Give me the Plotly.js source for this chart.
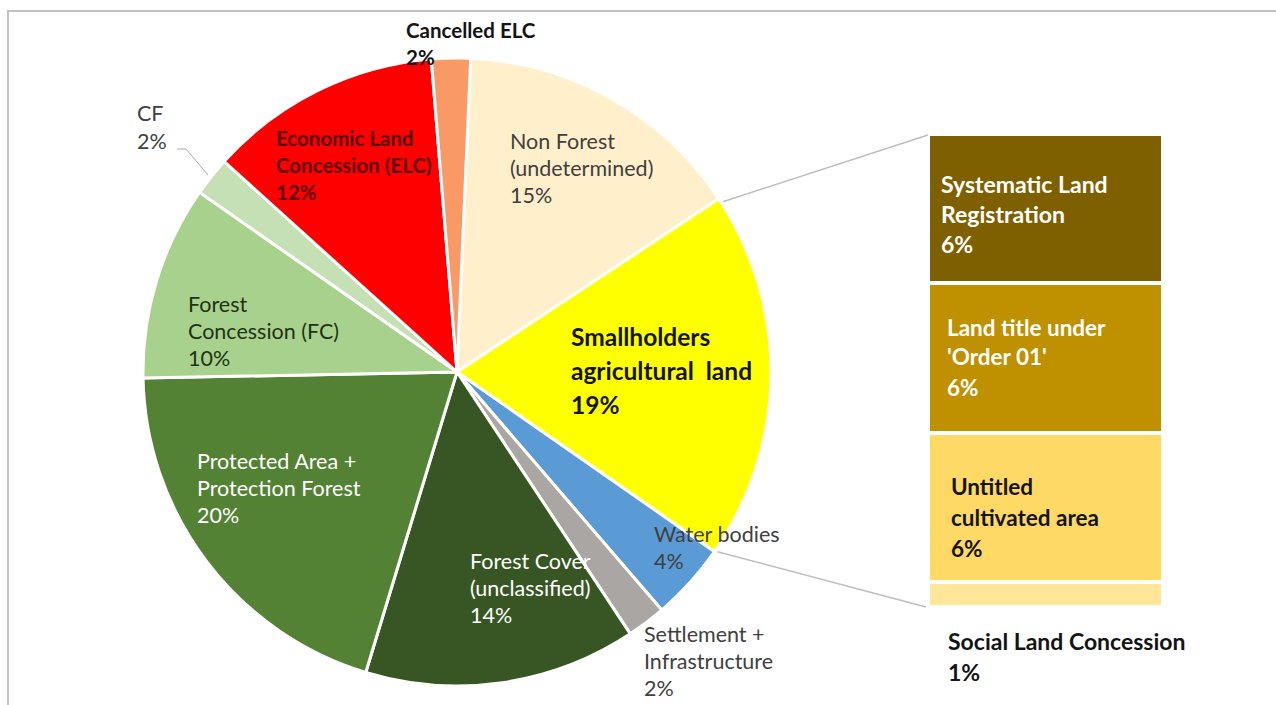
<!DOCTYPE html>
<html>
<head>
<meta charset="utf-8">
<script src="https://cdn.plot.ly/plotly-3.0.1.min.js"></script>
<style>html,body{margin:0;padding:0;background:#fff;}#chart{width:1276px;height:705px;}</style>
</head>
<body>
<div id="chart"></div>
<script>
// ---- data ----
const pieLabels = ['Non Forest\n(undetermined)', 'Smallholders\nagricultural  land', 'Water bodies',
  'Settlement +\nInfrastructure', 'Forest Cover\n(unclassified)', 'Protected Area +\nProtection Forest',
  'Forest\nConcession (FC)', 'CF', 'Economic Land\nConcession (ELC)', 'Cancelled ELC'];
const pieValues = [15, 19, 4, 2, 14, 20, 10, 2, 12, 2];
const pieColors = ['#FFEFCB', '#FFFF00', '#5B9BD5', '#A9A6A4', '#375623', '#548235',
  '#A9D18E', '#C5E0B4', '#FF0000', '#F99A66'];

const barLabels = ['Social Land Concession', 'Untitled\ncultivated area', "Land title under\n'Order 01'", 'Systematic Land\nRegistration'];
const barValues = [1, 6, 6, 6];
const barColors = ['#FFE699', '#FFD966', '#BF9000', '#7F6000'];

// ---- geometry (pixels) ----
const W = 1276, H = 705;
const cx = 457, cy = 372, R = 314, rotation = 2.5;
const barPx = {x0: 928, x1: 1163, y0: 134, y1: 607};
const px = x => x / W, py = y => 1 - y / H;

const traces = [{
  type: 'pie',
  values: pieValues,
  labels: pieLabels.map(s => s.replace('\n', ' ')),
  sort: false,
  direction: 'clockwise',
  rotation: rotation,
  marker: {colors: pieColors, line: {color: '#ffffff', width: 3}},
  textinfo: 'none',
  hoverinfo: 'label+percent',
  showlegend: false,
  domain: {x: [px(cx - R), px(cx + R)], y: [py(cy + R), py(cy - R)]}
}];

barValues.forEach((v, i) => {
  traces.push({
    type: 'bar', x: [0], y: [v], name: barLabels[i].replace('\n', ' '),
    marker: {color: barColors[i], line: {color: '#ffffff', width: 4}},
    showlegend: false, hoverinfo: 'name+y', xaxis: 'x', yaxis: 'y'
  });
});

const barTotal = barValues.reduce((a, b) => a + b, 0);
const pieTotal = pieValues.reduce((a, b) => a + b, 0);

// connector lines: from edges of the Smallholders slice to bar corners
const idx = 1;
let cum = 0; for (let i = 0; i < idx; i++) cum += pieValues[i];
const a0 = (rotation + cum / pieTotal * 360) * Math.PI / 180;
const a1 = (rotation + (cum + pieValues[idx]) / pieTotal * 360) * Math.PI / 180;
const p0 = [cx + R * Math.sin(a0) + 4, cy - R * Math.cos(a0) + 3];
const p1 = [cx + R * Math.sin(a1) + 3, cy - R * Math.cos(a1)];

const shapes = [
  {type: 'rect', xref: 'paper', yref: 'paper', x0: px(8), x1: 1.02, y0: -0.02, y1: py(11),
   line: {color: '#C3C3C3', width: 2}, fillcolor: 'rgba(0,0,0,0)', layer: 'below'},
  {type: 'line', xref: 'paper', yref: 'paper', x0: px(p0[0]), y0: py(p0[1]), x1: px(barPx.x0), y1: py(barPx.y0 + 1),
   line: {color: '#BDBDBD', width: 1.5}},
  {type: 'line', xref: 'paper', yref: 'paper', x0: px(p1[0]), y0: py(p1[1]), x1: px(barPx.x0 - 2), y1: py(barPx.y1),
   line: {color: '#BDBDBD', width: 1.5}},
  {type: 'path', xref: 'paper', yref: 'paper',
   path: `M ${px(177)} ${py(149)} L ${px(186)} ${py(149)} L ${px(208)} ${py(175)}`,
   line: {color: '#A6A6A6', width: 1}}
];

const FONT = 'Lato, "Open Sans", "DejaVu Sans", sans-serif';
const annotations = [];
function addLabel(text, value, x, y, dy, size, color, bold) {
  const lines = text.split('\n').concat([value + '%']);
  lines.forEach((ln, k) => {
    annotations.push({
      xref: 'paper', yref: 'paper', x: px(x - 2), y: py(y + k * dy),
      xanchor: 'left', yanchor: 'middle', showarrow: false,
      text: bold ? '<b>' + ln + '</b>' : ln,
      font: {family: FONT, size: size, color: color}
    });
  });
}
// pie labels
const pieLabelPos = [
  [510, 141, 27, 21.5, '#404040', false],
  [571, 336, 34, 24.5, '#141414', true],
  [654, 534, 27, 21.5, '#404040', false],
  [644, 634, 27, 21.5, '#404040', false],
  [470, 561, 27, 21.5, '#ffffff', false],
  [197, 461, 27, 21.5, '#ffffff', false],
  [188, 304, 27, 21.5, '#1F3312', false],
  [137, 113, 28, 21.5, '#404040', false],
  [276, 138, 27, 20.5, '#5A0000', true],
  [406, 30, 27, 20.5, '#141414', true]
];
pieLabels.forEach((t, i) => {
  const p = pieLabelPos[i];
  addLabel(t, pieValues[i], p[0], p[1], p[2], p[3], p[4], p[5]);
});
const barLabelPos = [
  [948, 641, 31, 23, '#141414'],
  [951, 486, 31, 22.5, '#141414'],
  [947, 327, 30, 22.5, '#ffffff'],
  [941, 184, 30, 23, '#ffffff']
];
barLabels.forEach((t, i) => {
  const p = barLabelPos[i];
  addLabel(t, barValues[i], p[0], p[1], p[2], p[3], p[4], true);
});

const layout = {
  width: W, height: H,
  margin: {l: 0, r: 0, t: 0, b: 0},
  paper_bgcolor: '#ffffff', plot_bgcolor: 'rgba(0,0,0,0)',
  barmode: 'stack', bargap: 0,
  showlegend: false,
  xaxis: {domain: [px(barPx.x0), px(barPx.x1)], range: [-0.5, 0.5], visible: false, fixedrange: true},
  yaxis: {domain: [py(barPx.y1), py(barPx.y0)], range: [0, barTotal], visible: false, fixedrange: true},
  shapes: shapes,
  annotations: annotations,
  font: {family: FONT}
};

Plotly.newPlot('chart', traces, layout, {displayModeBar: false, staticPlot: true});
</script>
</body>
</html>
